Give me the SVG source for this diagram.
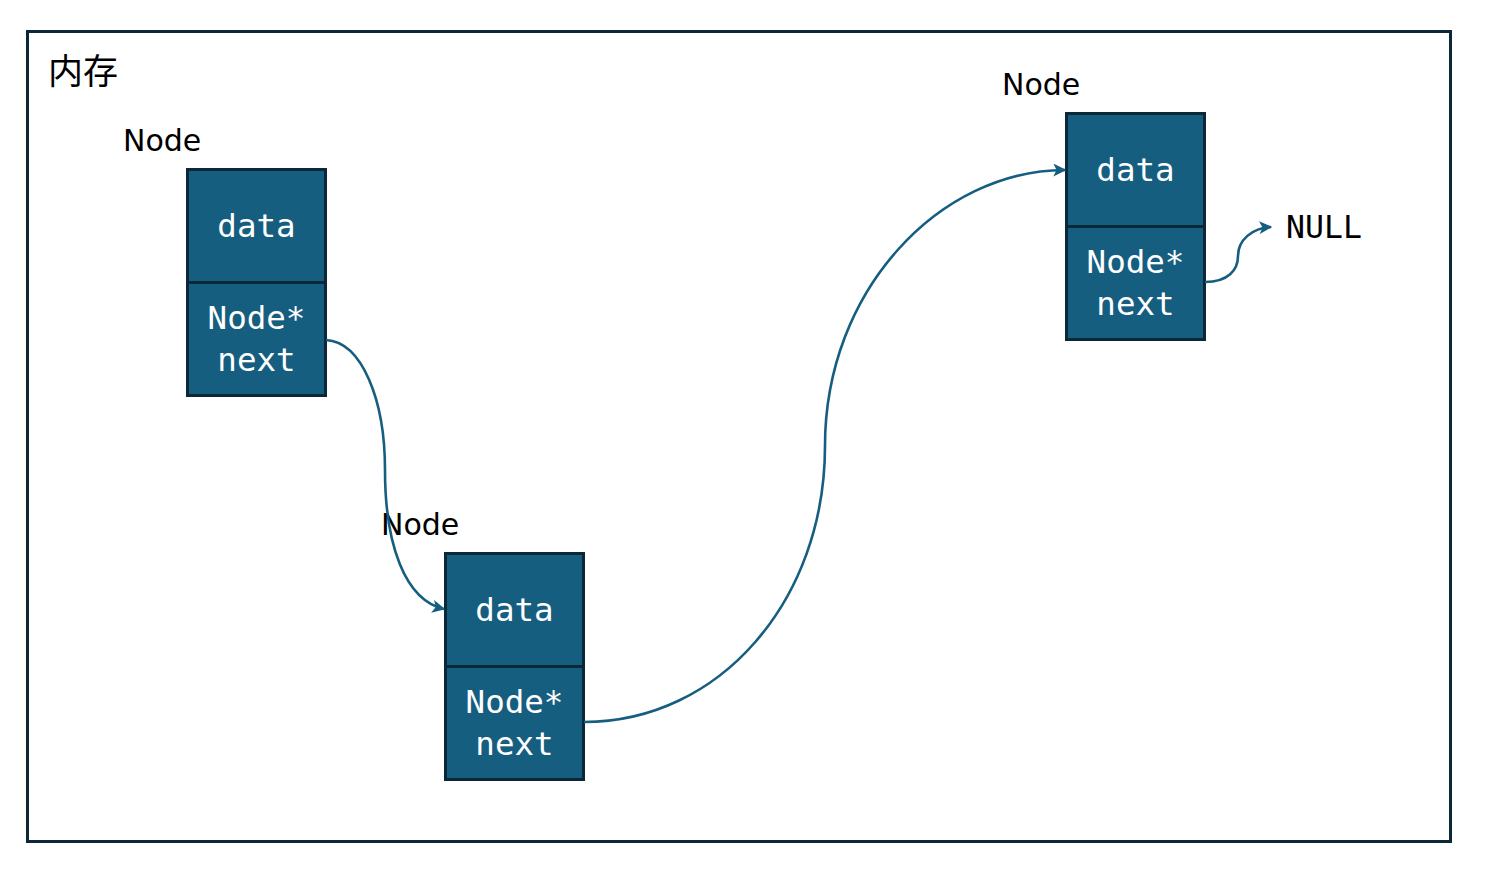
<svg xmlns="http://www.w3.org/2000/svg" width="1511" height="891" viewBox="0 0 1511 891">
<style>
.cell{fill:#165e80;stroke:#0b2738;stroke-width:3}
.in{font-family:"DejaVu Sans Mono","Liberation Mono",monospace;font-size:32.5px;fill:#ffffff;text-anchor:middle}
.lbl{font-family:"DejaVu Sans","Noto Sans",sans-serif;font-size:30px;fill:#000000}
.null{font-family:"DejaVu Sans Mono","Liberation Mono",monospace;font-size:31.5px;fill:#000000}
.conn{fill:none;stroke:#165e80;stroke-width:2.6;marker-end:url(#arr)}
</style>
<defs>
<marker id="arr" viewBox="0 0 10 10" refX="9" refY="5" markerWidth="5" markerHeight="5" orient="auto" markerUnits="strokeWidth">
<path d="M0,0 L10,5 L0,10 L2.5,5 Z" fill="#165e80"/>
</marker>
</defs>
<rect width="1511" height="891" fill="#ffffff"/>
<g id="memory">
<rect x="27.5" y="31.5" width="1423" height="810" fill="none" stroke="#0b2738" stroke-width="3"/>
<text x="48" y="84" font-family="'Noto Sans CJK SC','DejaVu Sans',sans-serif" font-size="35" fill="#000">内存</text>
</g>
<g id="node1">
<text class="lbl" x="123" y="151">Node</text>
<rect class="cell" x="187.5" y="169.5" width="138" height="113"/>
<rect class="cell" x="187.5" y="282.5" width="138" height="113"/>
<text class="in" x="256.5" y="237">data</text>
<text class="in" x="256.5" y="329">Node*</text>
<text class="in" x="256.5" y="371">next</text>
</g>
<g id="node2">
<text class="lbl" x="381" y="535">Node</text>
<rect class="cell" x="445.5" y="553.5" width="138" height="113"/>
<rect class="cell" x="445.5" y="666.5" width="138" height="113"/>
<text class="in" x="514.5" y="621">data</text>
<text class="in" x="514.5" y="713">Node*</text>
<text class="in" x="514.5" y="755">next</text>
</g>
<g id="node3">
<text class="lbl" x="1002" y="95">Node</text>
<rect class="cell" x="1066.5" y="113.5" width="138" height="113"/>
<rect class="cell" x="1066.5" y="226.5" width="138" height="113"/>
<text class="in" x="1135.5" y="181">data</text>
<text class="in" x="1135.5" y="273">Node*</text>
<text class="in" x="1135.5" y="315">next</text>
</g>
<g id="null">
<text class="null" x="1286" y="238">NULL</text>
</g>
<g id="connectors">
<path class="conn" d="M326,340 C362,342 385,400 385,470 C385,545 405,600 444,609"/>
<path class="conn" d="M584,722 C720,722 825,600 825,446 C825,290 940,170 1065,170"/>
<path class="conn" d="M1205,282 C1228,282 1238,270 1238,256 C1238,240 1252,228 1271,227"/>
</g>
</svg>
